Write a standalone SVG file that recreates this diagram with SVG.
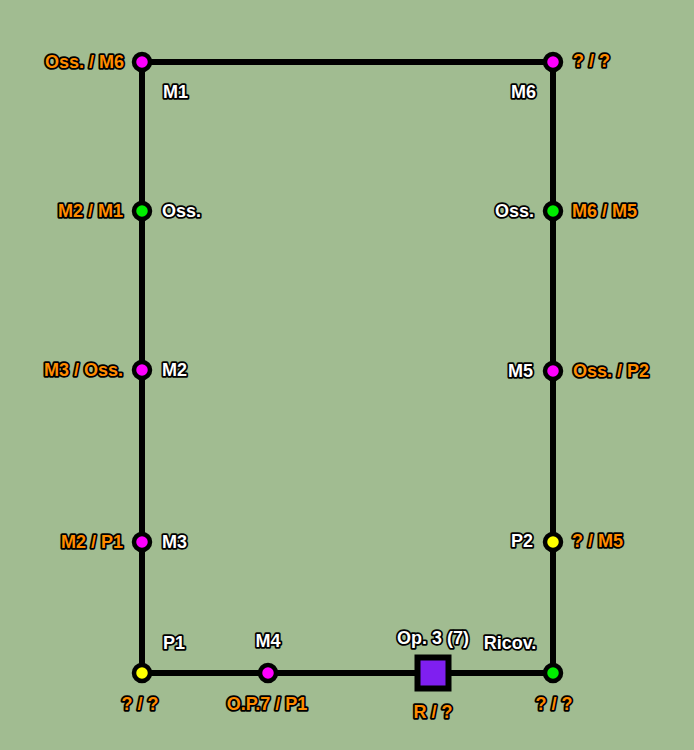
<svg xmlns="http://www.w3.org/2000/svg" width="694" height="750" viewBox="0 0 694 750">
<style>
text{font-family:"Liberation Sans",Arial,sans-serif;font-weight:bold;font-size:18px;stroke:#000;stroke-width:3.5px;stroke-linejoin:round;paint-order:stroke}
.w{fill:#fff}
.o{fill:#ff8c00}
.e{text-anchor:end}
.m{text-anchor:middle}
.n{stroke:#000;stroke-width:4.5}
.mg{fill:#ff00ff}
.gr{fill:#00ee00}
.ye{fill:#ffff00}
</style>
<rect width="694" height="750" fill="#a1bc91"/>
<g id="connectors" fill="none" stroke="#000" stroke-width="6">
<polyline points="142,673 142,62 553,62 553,673 142,673"/>
</g>
<g id="n1"><circle class="n mg" cx="142" cy="62" r="8"/><text class="o e" x="124" y="68">Oss. / M6</text><text class="w" x="163" y="98">M1</text></g>
<g id="n2"><circle class="n gr" cx="142" cy="211" r="8"/><text class="o e" x="123" y="217">M2 / M1</text><text class="w" x="162" y="217">Oss.</text></g>
<g id="n3"><circle class="n mg" cx="142" cy="370" r="8"/><text class="o e" x="123" y="376">M3 / Oss.</text><text class="w" x="162" y="376">M2</text></g>
<g id="n4"><circle class="n mg" cx="142" cy="542" r="8"/><text class="o e" x="123" y="548">M2 / P1</text><text class="w" x="162" y="548">M3</text></g>
<g id="n5"><circle class="n ye" cx="142" cy="673" r="8"/><text class="w" x="163" y="649">P1</text><text class="o m" x="140" y="710">? / ?</text></g>
<g id="n6"><circle class="n mg" cx="268" cy="673" r="8"/><text class="w m" x="268" y="647">M4</text><text class="o m" x="267" y="710">O.P.7 / P1</text></g>
<g id="n7"><rect x="417.5" y="657.5" width="31" height="31" fill="#7f1ff0" stroke="#000" stroke-width="6"/><text class="w m" x="433" y="644">Op. 3 (7)</text><text class="o m" x="433" y="718">R / ?</text></g>
<g id="n8"><circle class="n gr" cx="553" cy="673" r="8"/><text class="w m" x="510" y="649">Ricov.</text><text class="o m" x="554" y="710">? / ?</text></g>
<g id="n9"><circle class="n ye" cx="553" cy="542" r="8"/><text class="w e" x="533" y="547">P2</text><text class="o" x="572" y="547">? / M5</text></g>
<g id="n10"><circle class="n mg" cx="553" cy="371" r="8"/><text class="w e" x="533" y="377">M5</text><text class="o" x="573" y="377">Oss. / P2</text></g>
<g id="n11"><circle class="n gr" cx="553" cy="211" r="8"/><text class="w e" x="534" y="217">Oss.</text><text class="o" x="572" y="217">M6 / M5</text></g>
<g id="n12"><circle class="n mg" cx="553" cy="62" r="8"/><text class="w e" x="536" y="98">M6</text><text class="o" x="573" y="67">? / ?</text></g>
</svg>
